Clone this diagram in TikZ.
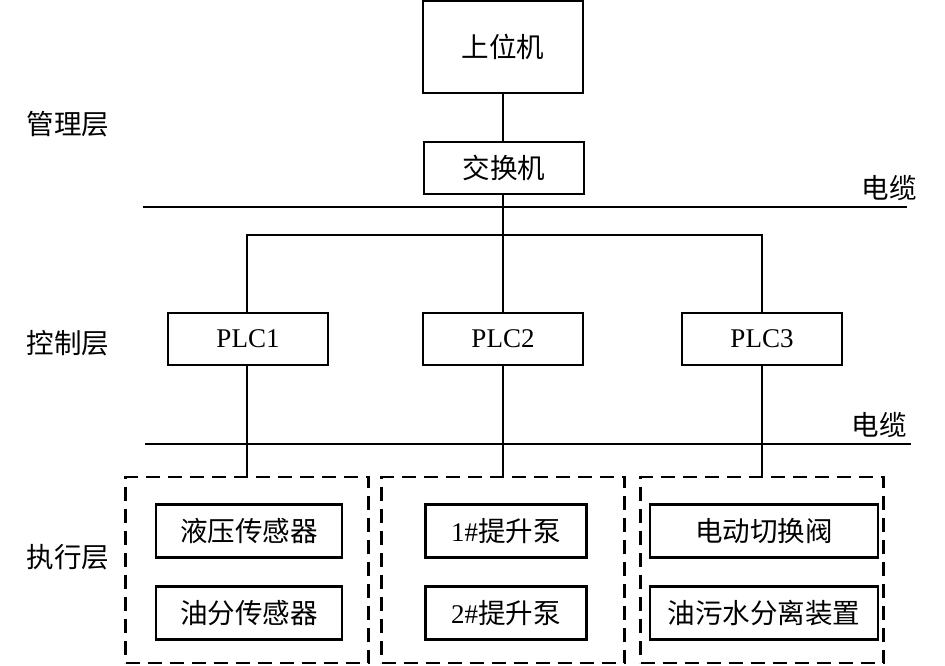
\documentclass[tikz,border=0pt]{standalone}
\usepackage{fontspec}
\setmainfont{Liberation Serif}
\newfontfamily\cjk{Noto Sans CJK SC}[Scale=1.02]
\begin{document}
\begin{tikzpicture}[x=1pt,y=-1pt,
  lw/.style={line width=2.2pt},
  box/.style={draw,lw,rectangle,inner sep=0pt,font=\fontsize{27}{30}\selectfont},
  group/.style={draw,lw,rectangle,inner sep=0pt,dash pattern=on 14pt off 8pt},
  txt/.style={inner sep=0pt,font=\fontsize{27}{30}\selectfont},
  conn/.style={lw}]
\useasboundingbox (0,0) rectangle (945,666);
% management layer
\node[box,minimum width=160pt,minimum height=92pt] (host) at (503,47) {\cjk 上位机};
\node[box,minimum width=160pt,minimum height=52pt] (sw) at (504,168) {\cjk 交换机};
% cables
\coordinate (c1l) at (143,207);
\coordinate (c1r) at (907,207);
\draw[conn] (c1l) -- (c1r);
\node[txt] (cab1) at (889,188) {\cjk 电缆};
\coordinate (c2l) at (145,444);
\coordinate (c2r) at (911,444);
\draw[conn] (c2l) -- (c2r);
\node[txt] (cab2) at (879,425) {\cjk 电缆};
% PLCs
\node[box,minimum width=160pt,minimum height=52pt] (plc1) at (248,339) {PLC1};
\node[box,minimum width=160pt,minimum height=52pt] (plc2) at (503,339) {PLC2};
\node[box,minimum width=160pt,minimum height=52pt] (plc3) at (762,339) {PLC3};
% bus
\coordinate (bus) at (503,235);
\coordinate (busl) at (247,235);
\coordinate (busr) at (762,235);
\draw[conn] (host.south) -- (sw.north -| host.south);
\draw[conn] (sw.south -| bus) -- (bus);
\draw[conn] (plc1.north -| busl) -- (busl) -- (busr) -- (plc3.north -| busr);
\draw[conn] (bus) -- (plc2.north);
% groups
\node[group,minimum width=243pt,minimum height=186pt] (g1) at (247,570) {};
\node[group,minimum width=243pt,minimum height=186pt] (g2) at (503,570) {};
\node[group,minimum width=243pt,minimum height=186pt] (g3) at (762,570) {};
\draw[conn] (plc1.south -| g1.north) -- (g1.north);
\draw[conn] (plc2.south) -- (g2.north);
\draw[conn] (plc3.south) -- (g3.north);
% devices
\node[box,minimum width=186pt,minimum height=53pt] (d11) at (249,531) {\cjk 液压传感器};
\node[box,minimum width=186pt,minimum height=53pt] (d12) at (249,613) {\cjk 油分传感器};
\node[box,minimum width=161pt,minimum height=53pt] (d21) at (506,531) {1\#{\cjk 提升泵}};
\node[box,minimum width=161pt,minimum height=53pt] (d22) at (506,613) {2\#{\cjk 提升泵}};
\node[box,minimum width=228pt,minimum height=53pt] (d31) at (764,531) {\cjk 电动切换阀};
\node[box,minimum width=228pt,minimum height=53pt] (d32) at (764,613) {\cjk 油污水分离装置};
% layer labels
\node[txt] (l1) at (68,124) {\cjk 管理层};
\node[txt] (l2) at (68,343) {\cjk 控制层};
\node[txt] (l3) at (68,557) {\cjk 执行层};
\end{tikzpicture}
\end{document}
